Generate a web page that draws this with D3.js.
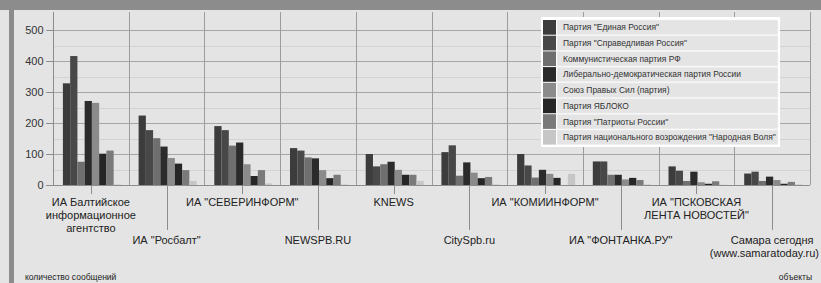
<!DOCTYPE html>
<html><head><meta charset="utf-8">
<script src="https://cdn.jsdelivr.net/npm/d3@7/dist/d3.min.js"></script>
<style>
html,body{margin:0;padding:0;background:#e4e4e4;overflow:hidden}
svg{display:block;font-family:Arial,"Liberation Sans",sans-serif}
</style></head><body>
<svg id="c" width="821" height="283"></svg>
<script>
const categories = [
  ["ИА Балтийское","информационное","агентство"],
  ["ИА \"Росбалт\""],
  ["ИА \"СЕВЕРИНФОРМ\""],
  ["NEWSPB.RU"],
  ["KNEWS"],
  ["CitySpb.ru"],
  ["ИА \"КОМИИНФОРМ\""],
  ["ИА \"ФОНТАНКА.РУ\""],
  ["ИА \"ПСКОВСКАЯ","ЛЕНТА НОВОСТЕЙ\""],
  ["Самара сегодня","(www.samaratoday.ru)"]
];
const seriesNames = [
  "Партия \"Единая Россия\"",
  "Партия \"Справедливая Россия\"",
  "Коммунистическая партия РФ",
  "Либерально-демократическая партия России",
  "Союз Правых Сил (партия)",
  "Партия ЯБЛОКО",
  "Партия \"Патриоты России\"",
  "Партия национального возрождения \"Народная Воля\""
];
const seriesColors = ["#3c3c3c","#484848","#6f6f6f","#2b2b2b","#8b8b8b","#262626","#7a7a7a","#c6c6c6"];
// values per series across the 10 categories
const edinaya     = [328,224,190,119,100,106,100,76,60,37];
const spravedliv  = [416,177,177,111, 60,128, 63,76,46,43];
const kprf        = [ 75,151,127, 89, 67, 30, 24,33,13,13];
const ldpr        = [271,124,137, 86, 75, 73, 49,33,43,27];
const sps         = [265, 87, 67, 48, 49, 40, 36,18, 9,16];
const yabloko     = [101, 69, 29, 22, 33, 22, 23,23, 4, 4];
const patrioty    = [111, 48, 48, 33, 33, 26,  0,16,12,10];
const narodVolya  = [  2, 13,  5,  2, 13,  2, 36, 2, 1, 2];
const seriesValues = [edinaya,spravedliv,kprf,ldpr,sps,yabloko,patrioty,narodVolya];
const yTicks = [0,100,200,300,400,500];
const yMinor = [50,150,250,350,450];
const yTitle = "количество сообщений";
const xTitle = "объекты";

const svg = d3.select("#c");
const W=821,H=283;
// frame
svg.append("rect").attr("x",0).attr("y",0).attr("width",W).attr("height",H).attr("fill","#e4e4e4");
svg.append("rect").attr("x",0).attr("y",0).attr("width",W).attr("height",10).attr("fill","#8c8c8c");
svg.append("rect").attr("x",9).attr("y",0).attr("width",5).attr("height",H).attr("fill","#8c8c8c");

const x0=53,x1=810,plotTop=12;
const y = d3.scaleLinear().domain([0,500]).range([185,30]);
const xg = d3.scaleBand().domain(d3.range(categories.length)).range([x0,x1]).padding(0);
const xs = d3.scaleBand().domain(d3.range(seriesNames.length)).range([0,xg.bandwidth()]).paddingInner(0).paddingOuter(1.22).align(0.56);

// minor gridlines
svg.append("g").selectAll("line").data(yMinor).join("line")
  .attr("x1",x0).attr("x2",x1).attr("y1",d=>Math.round(y(d))+0.5).attr("y2",d=>Math.round(y(d))+0.5)
  .attr("stroke","#d3d3d3").attr("stroke-width",1);
// major gridlines
svg.append("g").selectAll("line").data(yTicks.filter(d=>d>0)).join("line")
  .attr("x1",x0-7).attr("x2",x1).attr("y1",d=>Math.round(y(d))+0.5).attr("y2",d=>Math.round(y(d))+0.5)
  .attr("stroke","#a6a6a6").attr("stroke-width",1);
// vertical group lines
const vlines = d3.range(categories.length+1).map(i=> i<categories.length? xg(i): x1);
svg.append("g").selectAll("line").data(vlines).join("line")
  .attr("x1",d=>Math.round(d)+0.5).attr("x2",d=>Math.round(d)+0.5).attr("y1",plotTop).attr("y2",y(0))
  .attr("stroke","#9c9c9c").attr("stroke-width",1);

// bars
const g = svg.append("g");
categories.forEach((c,ci)=>{
  seriesValues.forEach((vals,si)=>{
    const v=vals[ci];
    if(v<=0) return;
    g.append("rect")
      .attr("x",xg(ci)+xs(si)).attr("width",xs.bandwidth())
      .attr("y",y(v)).attr("height",y(0)-y(v))
      .attr("fill",seriesColors[si]);
  });
});

// y axis
const ya = svg.append("g").attr("transform",`translate(${x0+0.5},0)`)
  .call(d3.axisLeft(y).tickValues(yTicks).tickSize(7).tickPadding(3));
ya.select(".domain").remove();
ya.selectAll("line").attr("stroke","#8c8c8c");
ya.selectAll("text").attr("font-size",11).attr("fill","#333").attr("font-family","Arial,'Liberation Sans',sans-serif");
svg.append("line").attr("x1",x0+0.5).attr("x2",x0+0.5).attr("y1",plotTop).attr("y2",y(0)).attr("stroke","#8c8c8c");
svg.append("line").attr("x1",x0-7).attr("x2",x1).attr("y1",Math.round(y(0))+0.5).attr("y2",Math.round(y(0))+0.5).attr("stroke","#8c8c8c");

// category labels (staggered)
const lab = svg.append("g");
categories.forEach((lines,ci)=>{
  const cx = xg(ci)+xg.bandwidth()/2;
  const upper = ci%2===0;
  const tickEnd = upper?194:230;
  const baseY = upper?206:244;
  lab.append("line").attr("x1",Math.round(cx)+0.5).attr("x2",Math.round(cx)+0.5)
    .attr("y1",y(0)).attr("y2",tickEnd).attr("stroke","#8c8c8c");
  lines.forEach((t,li)=>{
    const tx = lab.append("text").attr("x",cx).attr("y",baseY+li*12.8).attr("text-anchor","middle")
      .attr("font-size",11).attr("fill","#222").text(t);
    const w = tx.node().getComputedTextLength();
    if(cx + w/2 > W-2) tx.attr("x", W-2-w/2);
  });
});

// axis titles
svg.append("text").attr("x",25).attr("y",280).attr("font-size",8.5).attr("fill","#222").text(yTitle);
svg.append("text").attr("x",812).attr("y",280).attr("text-anchor","end").attr("font-size",8.5).attr("fill","#222").text(xTitle);

// legend
const lx=541, ly=17, lw=239, lh=130, rowH=15.7;
const leg = svg.append("g");
leg.append("rect").attr("x",lx).attr("y",ly).attr("width",lw).attr("height",lh).attr("fill","#ffffff");
seriesNames.forEach((n,i)=>{
  const ry = ly+3+i*rowH;
  leg.append("rect").attr("x",lx+2).attr("y",ry).attr("width",13).attr("height",rowH-1).attr("fill",seriesColors[i]);
  leg.append("rect").attr("x",lx+16).attr("y",ry).attr("width",lw-18).attr("height",rowH-1)
    .attr("fill","#e4e4e4").attr("stroke","#f4f4f4").attr("stroke-width",0.5);
  leg.append("text").attr("x",lx+22).attr("y",ry+rowH/2+2.5).attr("font-size",8.45).attr("fill","#333").text(n);
});
</script>
</body></html>
